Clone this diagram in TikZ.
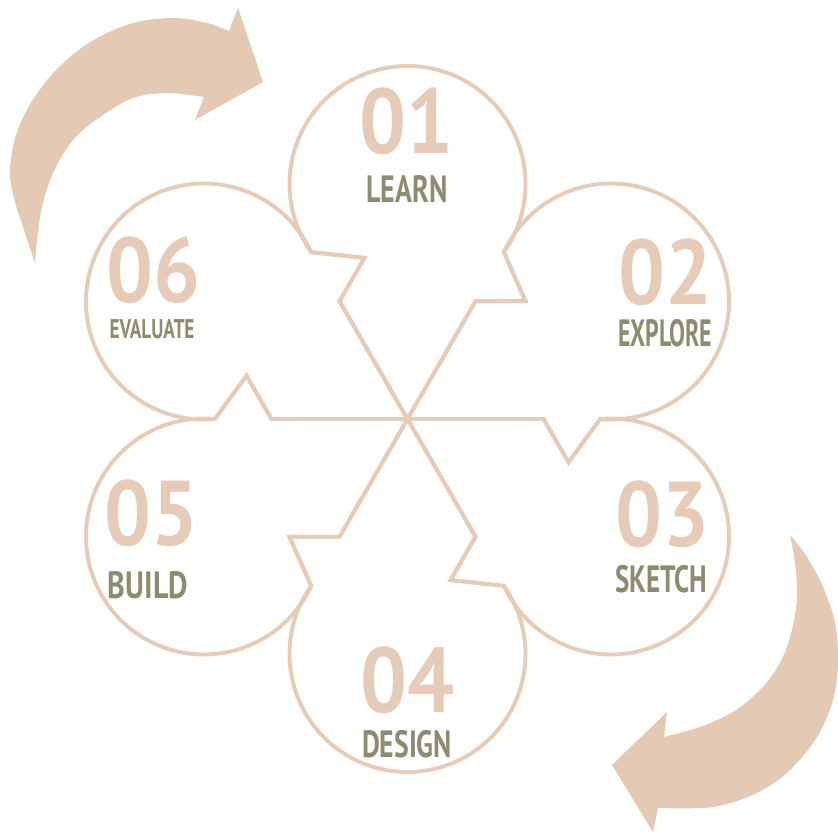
\documentclass[tikz,border=0pt]{standalone}
\usepackage{fontspec}
\usepackage{graphicx}
\newfontfamily\numfont{PT Sans}[FakeStretch=0.9]
\newfontfamily\lblfont{PT Sans}
\definecolor{peach}{HTML}{E6CCB8}
\definecolor{peachfill}{HTML}{E4C9B4}
\definecolor{olive}{HTML}{8D8C70}
% squeeze a label to a given width, keeping its height
\newcommand\fitw[2]{\resizebox{#1}{\height}{#2}}
\tikzset{
  bubble/.style={draw=peach, line width=3.9pt, line join=miter, miter limit=6},
  bigarrow/.style={fill=peachfill},
  num/.style={text=peach, inner sep=0pt, font=\numfont\bfseries\fontsize{92}{92}\selectfont},
  lbl/.style={text=olive, inner sep=0pt, font=\lblfont\bfseries\fontsize{38}{38}\selectfont},
  lblsmall/.style={lbl, font=\lblfont\bfseries\fontsize{27}{27}\selectfont}
}
\begin{document}
\begin{tikzpicture}[x=1pt,y=1pt]
\useasboundingbox (0,0) rectangle (838,834);
\fill[white] (0,0) rectangle (838,834);

% six speech-bubble circles around a common hub, pinwheel tails
\begin{scope}[shift={(407.5,415)}]
  \foreach \k in {0,...,5} {
    \draw[bubble, rotate=60*\k]
      (0,0) -- (136,0) -- (161,-43.3) -- (192.67,0)
      arc[start angle=-95.28, end angle=155.28, radius=118]
      -- (118,117.8) -- (68,117.78) -- cycle;
  }
\end{scope}

% labels and the two curved cycle arrows, in y-down page coordinates
\begin{scope}[shift={(0,834)}, yscale=-1]
  \fill[bigarrow]
    plot[smooth, tension=0.55] coordinates {(35,263) (25,233) (14,198) (10,170) (16,135) (32,101) (58,68) (92,41) (133,23) (173,18) (207,23) (229,31)}
    -- (238,8) -- (263,82) -- (195,120)
    -- plot[smooth, tension=0.55] coordinates {(204,97) (167,93) (133,98) (100,117) (73,140) (53,173) (42,207) (37,240) (35,263)}
    -- cycle;
  \fill[bigarrow]
    plot[smooth, tension=0.55] coordinates {(790,535) (807,557) (823,587) (835,623) (838,663) (833,700) (817,737) (790,770) (757,793) (713,807) (658,808)}
    -- (653,832) -- (612,765) -- (667,712)
    -- plot[smooth, tension=0.55] coordinates {(664,737) (700,727) (733,712) (760,690) (780,663) (792,630) (797,597) (795,563) (790,535)}
    -- cycle;

  \node[num] (n01) at (406,121) {01};
  \node[lbl] (l01) at (407,189) {\fitw{81pt}{LEARN}};
  \node[num] (n02) at (665,272) {02};
  \node[lbl] (l02) at (665,333) {\fitw{94pt}{EXPLORE}};
  \node[num] (n03) at (662,514) {03};
  \node[lbl] (l03) at (661,579) {\fitw{92pt}{SKETCH}};
  \node[num] (n04) at (407,680) {04};
  \node[lbl] (l04) at (407,744) {\fitw{90pt}{DESIGN}};
  \node[num] (n05) at (151,513) {05};
  \node[lbl] (l05) at (148,585) {\fitw{80pt}{BUILD}};
  \node[num] (n06) at (153,270) {06};
  \node[lblsmall] (l06) at (152,329) {\fitw{85pt}{EVALUATE}};
\end{scope}
\end{tikzpicture}
\end{document}
